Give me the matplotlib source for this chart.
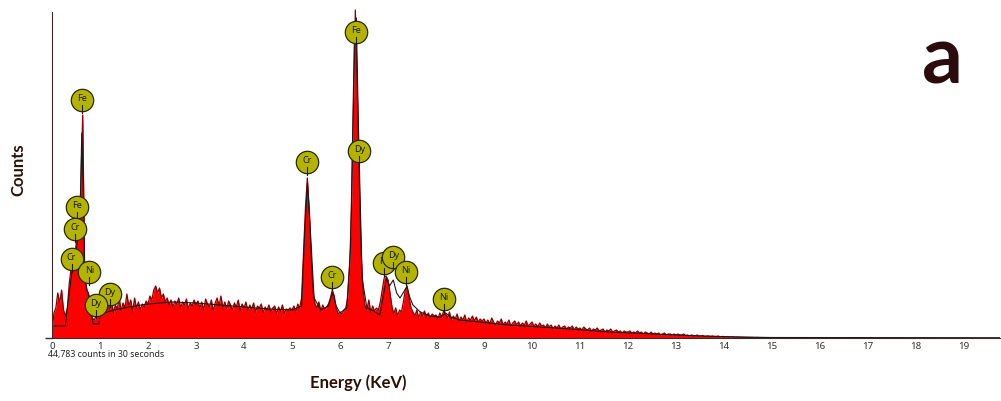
"""
EDS spectrum (panel a) - Fe / Cr / Ni / Dy
"""
import matplotlib
matplotlib.use('Agg')
import matplotlib.pyplot as plt
import numpy as np

plt.rcParams.update({'font.family': ['Noto Sans', 'DejaVu Sans']})

RED = '#ff0000'
DARKRED = '#8a0000'
LABEL_FILL = '#b4b400'
TEXT_BROWN = '#2b1106'

# spectrum channels, 0.04 keV wide, one row = 1 keV
channel_kev = 0.04
counts = [
    5, 25, 30, 45, 35, 48, 28, 22, 30, 55, 70, 72, 85, 100, 110, 150, 223, 70, 48, 45, 30, 20, 18, 22, 26,
    30, 24, 34, 26, 36, 28, 38, 25, 33, 29, 40, 27, 35, 30, 44, 32, 38, 26, 40, 30, 36, 28, 34, 31, 37,
    34, 42, 38, 48, 52, 45, 50, 40, 44, 36, 40, 33, 38, 31, 37, 34, 40, 30, 36, 33, 39, 29, 35, 32, 38,
    33, 37, 30, 36, 28, 39, 34, 31, 38, 27, 35, 40, 32, 42, 30, 36, 29, 37, 33, 28, 35, 31, 38, 27, 34,
    30, 36, 27, 33, 29, 35, 26, 32, 30, 34, 25, 31, 28, 33, 26, 30, 32, 24, 31, 27, 33, 25, 29, 28, 30,
    28, 32, 26, 34, 30, 40, 85, 130, 160, 128, 80, 46, 34, 30, 36, 27, 33, 29, 31, 34, 40, 48, 42, 30, 24,
    26, 24, 28, 30, 40, 70, 130, 230, 328, 250, 160, 85, 48, 32, 28, 38, 26, 32, 27, 30, 28, 36, 48, 60, 62,
    58, 46, 32, 24, 30, 22, 28, 26, 36, 48, 52, 40, 30, 26, 22, 28, 20, 26, 22, 27, 21, 25, 20, 24, 22,
    23, 19, 25, 21, 27, 24, 20, 26, 18, 22, 19, 24, 17, 21, 18, 23, 16, 20, 18, 22, 17, 21, 16, 19, 17,
    19, 15, 18, 14, 20, 16, 13, 17, 15, 19, 13, 16, 14, 18, 12, 15, 17, 13, 16, 12, 15, 13, 17, 12, 14,
    16, 12, 14, 11, 15, 12, 13, 10, 14, 11, 13, 9, 12, 10, 13, 9, 11, 12, 9, 11, 10, 12, 8, 11, 9,
    10, 8, 11, 9, 8, 10, 7, 9, 8, 10, 7, 8, 9, 6, 8, 7, 9, 6, 7, 8, 6, 7, 5, 7, 6,
    6, 7, 5, 6, 5, 7, 5, 6, 4, 6, 5, 4, 6, 4, 5, 4, 5, 3, 4, 5, 3, 4, 4, 3, 4,
    3, 4, 3, 3, 4, 2.5, 3, 2, 3, 2.5, 2, 3, 2, 2, 2.5, 1.5, 2, 2, 1.5, 2, 1.5, 1.5, 2, 1, 1.5,
    1.5, 1, 1.5, 1, 1.2, 1, 0.8, 1, 0.8, 0.7, 0.8, 0.6, 0.6, 0.5, 0.5, 0.5, 0.4, 0.5, 0.4, 0.4, 0.4, 0.3, 0.4, 0.3, 0.3,
]
energy = np.arange(len(counts)) * channel_kev

# fitted envelope (black line)
fit_kev = [0.04, 0.28, 0.30, 0.36, 0.42, 0.48, 0.54, 0.58, 0.62, 0.655, 0.68, 0.74, 0.78, 0.82, 0.86,
           0.98, 1.0, 1.3, 1.6, 2.0, 2.5, 3.0, 3.5, 4.0, 4.5, 5.0, 5.2, 5.26, 5.32, 5.38, 5.46, 5.6,
           5.76, 5.84, 5.92, 6.0, 6.14, 6.22, 6.30, 6.34, 6.38, 6.46, 6.56, 6.7, 6.83, 6.97, 7.03,
           7.11, 7.18, 7.25, 7.39, 7.46, 7.52, 7.67, 7.88, 8.1, 8.2, 8.3, 8.5, 9.5, 10.5, 11.6, 12.5,
           13.5, 14.3, 15.0, 19.75]
fit_counts = [12, 12, 22, 45, 68, 80, 100, 110, 205, 140, 60, 46, 40, 22, 14,
              14, 24, 28, 31, 34, 36, 35, 33, 31, 29, 28, 32, 100, 155, 110, 40, 28,
              32, 45, 32, 25, 30, 90, 300, 320, 220, 60, 30, 27, 23, 60, 52,
              58, 45, 40, 51, 40, 33, 26, 22, 21, 25, 21, 18, 13, 10, 6, 4,
              2, 1, 0.5, 0.3]

# peak labels: element, energy (keV), height of the circle centre
label_el = ['Fe', 'Fe', 'Cr', 'Cr', 'Ni', 'Dy', 'Dy',
            'Cr', 'Cr', 'Fe', 'Dy', 'Fe', 'Dy', 'Ni', 'Ni']
label_kev = [0.62, 0.52, 0.48, 0.41, 0.78, 1.21, 0.91,
             5.32, 5.84, 6.33, 6.40, 6.92, 7.11, 7.375, 8.17]
label_h = [238, 131, 109, 79, 66, 44, 33,
           176, 61, 306, 187, 75, 81, 66, 39]

xticks = list(range(0, 20))

fig = plt.figure(figsize=(10.01, 4.01), dpi=100)
ax = fig.add_axes([52 / 1001, 63 / 401, 948 / 1001, 330 / 401])

ax.fill_between(energy, counts, 0, color=RED, lw=0, zorder=1)
ax.plot(energy, counts, color=DARKRED, lw=0.9, zorder=2)
ax.plot(fit_kev, fit_counts, color='#1a1a1a', lw=0.8, zorder=3)

for i, (el, e, h) in enumerate(zip(label_el, label_kev, label_h)):
    z = 10 + i
    ax.scatter([e], [h], s=260, facecolor=LABEL_FILL, edgecolor='#2a2a00', lw=0.9, zorder=z)
    ax.plot([e, e], [h - 5, h - 13], color='#1a1a1a', lw=0.8, zorder=z)
    ax.text(e, h + 1.5, el, ha='center', va='center', fontsize=6.5, color='#1a1a1a', zorder=z)

ax.set_xlim(0, 19.75)
ax.set_ylim(0, 330)
ax.set_xticks(xticks)
ax.set_xticklabels([str(t) for t in xticks], fontsize=7, color='#333333')
ax.tick_params(axis='x', length=0, pad=3)
ax.set_yticks([0])
ax.set_yticklabels([''])
ax.tick_params(axis='y', length=5, width=1, color='#3a2a2a')
for s in ['top', 'right']:
    ax.spines[s].set_visible(False)
ax.spines['left'].set_color('#3a2a2a')
ax.spines['bottom'].set_color('#3a2a2a')
ax.spines['left'].set_bounds(0, 326)
ax.patch.set_alpha(0)

fig.text(48 / 1001, (401 - 355) / 401, '44,783 counts in 30 seconds', fontsize=6.3,
         color='#222222', va='center', ha='left')
fig.text(358 / 1001, (401 - 383) / 401, 'Energy (KeV)', fontsize=12, fontweight='bold',
         family='Lato', color=TEXT_BROWN, ha='center', va='center')
fig.text(18 / 1001, (401 - 170) / 401, 'Counts', fontsize=12, fontweight='bold',
         family='Lato', color=TEXT_BROWN, ha='center', va='center', rotation=90)
fig.text(942 / 1001, (401 - 83) / 401, 'a', fontsize=58, fontweight='bold',
         family='Lato', color='#2a0c0c', ha='center', va='baseline')

fig.savefig('out.png', dpi=100, facecolor='white')
plt.close(fig)
